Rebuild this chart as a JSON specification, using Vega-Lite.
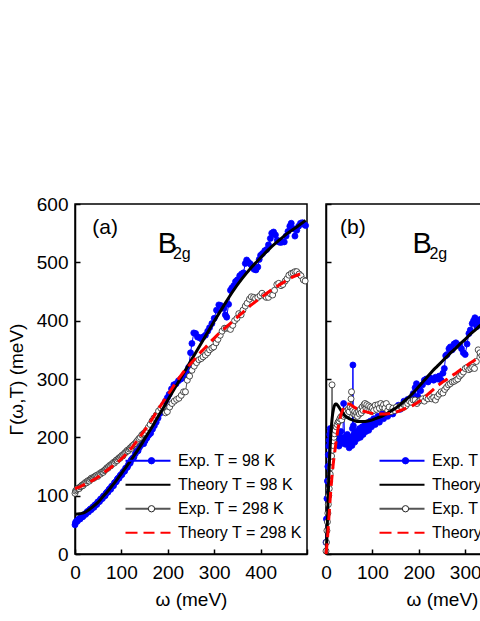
{
  "$schema": "https://vega.github.io/schema/vega-lite/v6.json",
  "padding": {"left": 6, "top": 194, "right": 0, "bottom": 0},
  "spacing": 6,
  "config": {
    "font": "Liberation Sans",
    "view": {"stroke": "black", "strokeWidth": 1.5},
    "axis": {"domainColor": "black", "domainWidth": 1.5, "tickColor": "black", "tickWidth": 1.5, "tickSize": -5, "labelFontSize": 19, "labelColor": "black", "labelFont": "Liberation Sans", "titleFont": "Liberation Sans", "titleFontSize": 19, "titleColor": "black", "titleFontWeight": "normal", "grid": false, "labelOverlap": false, "labelFlush": false}
  },
  "resolve": {"legend": {"color": "independent", "strokeDash": "independent", "fill": "independent", "stroke": "independent"}},
  "datasets": {
    "lab_a": [{"t": "(a)"}],
    "lab_b": [{"t": "(b)"}],
    "lab_B": [{"t": "B"}],
    "lab_2g": [{"t": "2g"}],
    "a_e98": [{"w":0,"g":50},{"w":1,"g":54},{"w":3,"g":56},{"w":5,"g":56},{"w":7,"g":59},{"w":9,"g":60},{"w":11,"g":60},{"w":13,"g":63},{"w":15,"g":64},{"w":17,"g":64},{"w":19,"g":67},{"w":21,"g":68},{"w":23,"g":68},{"w":25,"g":71},{"w":27,"g":73},{"w":29,"g":72},{"w":31,"g":75},{"w":33,"g":77},{"w":35,"g":76},{"w":37,"g":79},{"w":39,"g":81},{"w":41,"g":80},{"w":43,"g":84},{"w":45,"g":85},{"w":47,"g":85},{"w":49,"g":89},{"w":51,"g":90},{"w":53,"g":90},{"w":55,"g":94},{"w":57,"g":95},{"w":59,"g":95},{"w":61,"g":99},{"w":63,"g":100},{"w":65,"g":100},{"w":67,"g":104},{"w":69,"g":106},{"w":71,"g":106},{"w":73,"g":110},{"w":75,"g":112},{"w":77,"g":111},{"w":79,"g":116},{"w":81,"g":117},{"w":83,"g":117},{"w":85,"g":122},{"w":87,"g":123},{"w":89,"g":124},{"w":91,"g":128},{"w":93,"g":130},{"w":95,"g":130},{"w":97,"g":134},{"w":99,"g":136},{"w":101,"g":136},{"w":103,"g":140},{"w":105,"g":142},{"w":107,"g":142},{"w":109,"g":147},{"w":111,"g":148},{"w":113,"g":149},{"w":115,"g":153},{"w":117,"g":156},{"w":119,"g":156},{"w":121,"g":161},{"w":124,"g":164},{"w":127,"g":166},{"w":130,"g":172},{"w":133,"g":176},{"w":136,"g":177},{"w":139,"g":183},{"w":142,"g":187},{"w":145,"g":190},{"w":148,"g":189},{"w":151,"g":194},{"w":155,"g":199},{"w":159,"g":204},{"w":163,"g":207},{"w":167,"g":214},{"w":171,"g":220},{"w":175,"g":226},{"w":179,"g":233},{"w":183,"g":241},{"w":187,"g":249},{"w":191,"g":256},{"w":195,"g":262},{"w":199,"g":268},{"w":203,"g":274},{"w":208,"g":283},{"w":213,"g":290},{"w":218,"g":292},{"w":223,"g":297},{"w":228,"g":300},{"w":233,"g":302},{"w":238,"g":304},{"w":242,"g":312},{"w":245,"g":320},{"w":249,"g":345},{"w":252,"g":361},{"w":256,"g":379},{"w":260,"g":378},{"w":264,"g":372},{"w":268,"g":371},{"w":272,"g":369},{"w":276,"g":372},{"w":281,"g":375},{"w":286,"g":382},{"w":290,"g":388},{"w":295,"g":395},{"w":300,"g":404},{"w":305,"g":418},{"w":310,"g":427},{"w":314,"g":426},{"w":318,"g":422},{"w":321,"g":421},{"w":324,"g":410},{"w":327,"g":406},{"w":331,"g":428},{"w":335,"g":452},{"w":338,"g":456},{"w":342,"g":460},{"w":346,"g":467},{"w":350,"g":470},{"w":355,"g":477},{"w":359,"g":480},{"w":363,"g":482},{"w":367,"g":498},{"w":370,"g":504},{"w":374,"g":500},{"w":378,"g":497},{"w":382,"g":492},{"w":386,"g":488},{"w":390,"g":487},{"w":394,"g":492},{"w":397,"g":505},{"w":400,"g":512},{"w":404,"g":515},{"w":409,"g":520},{"w":413,"g":522},{"w":417,"g":530},{"w":421,"g":541},{"w":424,"g":550},{"w":428,"g":552},{"w":432,"g":547},{"w":436,"g":538},{"w":439,"g":535},{"w":443,"g":534},{"w":447,"g":535},{"w":451,"g":535},{"w":455,"g":545},{"w":459,"g":553},{"w":463,"g":562},{"w":466,"g":567},{"w":470,"g":558},{"w":474,"g":545},{"w":478,"g":555},{"w":482,"g":562},{"w":486,"g":567},{"w":490,"g":568},{"w":494,"g":565},{"w":497,"g":563}],
    "a_t98": [{"w":0,"g":68},{"w":10,"g":69},{"w":20,"g":71},{"w":30,"g":76},{"w":40,"g":82},{"w":50,"g":89},{"w":60,"g":98},{"w":70,"g":107},{"w":80,"g":117},{"w":90,"g":127},{"w":100,"g":138},{"w":110,"g":149},{"w":120,"g":160},{"w":130,"g":172},{"w":140,"g":184},{"w":150,"g":197},{"w":160,"g":210},{"w":170,"g":223},{"w":180,"g":237},{"w":190,"g":250},{"w":200,"g":264},{"w":220,"g":291},{"w":240,"g":318},{"w":260,"g":345},{"w":280,"g":372},{"w":300,"g":399},{"w":320,"g":425},{"w":340,"g":450},{"w":360,"g":472},{"w":380,"g":491},{"w":400,"g":508},{"w":420,"g":524},{"w":440,"g":538},{"w":460,"g":551},{"w":480,"g":562},{"w":497,"g":572}],
    "a_e298": [{"w":0,"g":104},{"w":1,"g":108},{"w":3,"g":110},{"w":5,"g":112},{"w":7,"g":113},{"w":9,"g":112},{"w":11,"g":115},{"w":13,"g":116},{"w":15,"g":118},{"w":17,"g":117},{"w":19,"g":120},{"w":21,"g":121},{"w":23,"g":123},{"w":25,"g":122},{"w":27,"g":125},{"w":29,"g":126},{"w":31,"g":125},{"w":33,"g":128},{"w":35,"g":130},{"w":37,"g":129},{"w":39,"g":131},{"w":41,"g":130},{"w":43,"g":133},{"w":45,"g":134},{"w":47,"g":135},{"w":49,"g":133},{"w":51,"g":136},{"w":53,"g":138},{"w":55,"g":137},{"w":57,"g":140},{"w":59,"g":141},{"w":61,"g":140},{"w":63,"g":143},{"w":65,"g":144},{"w":67,"g":146},{"w":69,"g":148},{"w":71,"g":147},{"w":73,"g":150},{"w":75,"g":152},{"w":77,"g":151},{"w":79,"g":154},{"w":81,"g":155},{"w":83,"g":157},{"w":85,"g":156},{"w":87,"g":159},{"w":89,"g":161},{"w":91,"g":160},{"w":93,"g":163},{"w":95,"g":165},{"w":97,"g":164},{"w":99,"g":167},{"w":101,"g":169},{"w":103,"g":168},{"w":105,"g":171},{"w":107,"g":173},{"w":109,"g":174},{"w":111,"g":176},{"w":113,"g":178},{"w":115,"g":177},{"w":117,"g":180},{"w":119,"g":182},{"w":121,"g":181},{"w":123,"g":185},{"w":126,"g":187},{"w":129,"g":189},{"w":132,"g":192},{"w":135,"g":195},{"w":138,"g":198},{"w":141,"g":200},{"w":144,"g":204},{"w":147,"g":206},{"w":150,"g":208},{"w":154,"g":212},{"w":158,"g":217},{"w":162,"g":222},{"w":166,"g":228},{"w":170,"g":233},{"w":175,"g":238},{"w":180,"g":245},{"w":185,"g":250},{"w":190,"g":252},{"w":195,"g":242},{"w":199,"g":244},{"w":204,"g":252},{"w":209,"g":258},{"w":214,"g":262},{"w":219,"g":265},{"w":224,"g":267},{"w":229,"g":272},{"w":234,"g":278},{"w":238,"g":278},{"w":242,"g":298},{"w":247,"g":305},{"w":252,"g":315},{"w":257,"g":322},{"w":262,"g":328},{"w":267,"g":333},{"w":272,"g":335},{"w":276,"g":338},{"w":281,"g":341},{"w":286,"g":345},{"w":290,"g":350},{"w":295,"g":353},{"w":299,"g":355},{"w":304,"g":362},{"w":308,"g":368},{"w":313,"g":375},{"w":317,"g":382},{"w":322,"g":387},{"w":326,"g":387},{"w":331,"g":387},{"w":335,"g":385},{"w":340,"g":392},{"w":344,"g":400},{"w":349,"g":404},{"w":353,"g":412},{"w":358,"g":410},{"w":362,"g":418},{"w":367,"g":425},{"w":371,"g":430},{"w":376,"g":437},{"w":380,"g":441},{"w":385,"g":440},{"w":389,"g":438},{"w":394,"g":440},{"w":399,"g":443},{"w":403,"g":447},{"w":408,"g":443},{"w":412,"g":440},{"w":417,"g":440},{"w":421,"g":446},{"w":426,"g":444},{"w":430,"g":452},{"w":435,"g":462},{"w":439,"g":464},{"w":444,"g":460},{"w":448,"g":462},{"w":453,"g":468},{"w":457,"g":472},{"w":461,"g":478},{"w":466,"g":481},{"w":470,"g":482},{"w":474,"g":484},{"w":478,"g":484},{"w":483,"g":480},{"w":487,"g":477},{"w":492,"g":470},{"w":496,"g":468}],
    "a_t298": [{"w":0,"g":112},{"w":10,"g":115},{"w":20,"g":119},{"w":30,"g":123},{"w":40,"g":127},{"w":50,"g":132},{"w":60,"g":138},{"w":70,"g":144},{"w":80,"g":150},{"w":90,"g":156},{"w":100,"g":163},{"w":110,"g":171},{"w":120,"g":180},{"w":130,"g":190},{"w":140,"g":201},{"w":150,"g":212},{"w":160,"g":224},{"w":170,"g":236},{"w":180,"g":249},{"w":190,"g":261},{"w":200,"g":273},{"w":210,"g":285},{"w":220,"g":297},{"w":230,"g":308},{"w":240,"g":318},{"w":250,"g":327},{"w":260,"g":336},{"w":270,"g":345},{"w":280,"g":353},{"w":290,"g":362},{"w":300,"g":370},{"w":310,"g":378},{"w":320,"g":385},{"w":330,"g":392},{"w":340,"g":399},{"w":350,"g":406},{"w":360,"g":413},{"w":370,"g":420},{"w":380,"g":427},{"w":390,"g":433},{"w":400,"g":439},{"w":410,"g":445},{"w":420,"g":451},{"w":430,"g":456},{"w":440,"g":461},{"w":450,"g":466},{"w":460,"g":471},{"w":470,"g":475},{"w":485,"g":480}],
    "b_e98": [{"w":0,"g":20},{"w":1,"g":60},{"w":2,"g":95},{"w":3,"g":125},{"w":4,"g":150},{"w":5,"g":170},{"w":6,"g":185},{"w":7,"g":195},{"w":8,"g":205},{"w":9,"g":215},{"w":10,"g":210},{"w":12,"g":205},{"w":14,"g":200},{"w":16,"g":195},{"w":18,"g":202},{"w":20,"g":190},{"w":22,"g":198},{"w":24,"g":205},{"w":26,"g":195},{"w":28,"g":185},{"w":30,"g":200},{"w":32,"g":210},{"w":34,"g":195},{"w":36,"g":190},{"w":38,"g":258},{"w":40,"g":200},{"w":42,"g":188},{"w":44,"g":195},{"w":46,"g":205},{"w":48,"g":192},{"w":50,"g":182},{"w":52,"g":190},{"w":54,"g":200},{"w":56,"g":186},{"w":57,"g":215},{"w":58,"g":324},{"w":59,"g":220},{"w":60,"g":205},{"w":62,"g":192},{"w":64,"g":200},{"w":66,"g":210},{"w":68,"g":198},{"w":70,"g":205},{"w":72,"g":215},{"w":74,"g":200},{"w":76,"g":208},{"w":78,"g":218},{"w":80,"g":205},{"w":82,"g":212},{"w":84,"g":222},{"w":86,"g":210},{"w":88,"g":218},{"w":90,"g":225},{"w":92,"g":212},{"w":94,"g":220},{"w":96,"g":228},{"w":98,"g":218},{"w":100,"g":225},{"w":103,"g":232},{"w":106,"g":222},{"w":109,"g":230},{"w":112,"g":236},{"w":115,"g":226},{"w":118,"g":234},{"w":121,"g":240},{"w":124,"g":232},{"w":127,"g":238},{"w":130,"g":244},{"w":133,"g":236},{"w":136,"g":242},{"w":140,"g":248},{"w":144,"g":240},{"w":148,"g":246},{"w":152,"g":250},{"w":156,"g":255},{"w":160,"g":248},{"w":164,"g":255},{"w":168,"g":262},{"w":172,"g":258},{"w":176,"g":265},{"w":180,"g":262},{"w":184,"g":268},{"w":188,"g":275},{"w":192,"g":285},{"w":195,"g":292},{"w":198,"g":270},{"w":201,"g":282},{"w":204,"g":280},{"w":208,"g":290},{"w":212,"g":298},{"w":216,"g":300},{"w":220,"g":295},{"w":224,"g":302},{"w":228,"g":300},{"w":232,"g":298},{"w":236,"g":303},{"w":240,"g":300},{"w":244,"g":305},{"w":248,"g":298},{"w":252,"g":310},{"w":255,"g":318},{"w":258,"g":340},{"w":261,"g":342},{"w":265,"g":352},{"w":268,"g":355},{"w":272,"g":350},{"w":276,"g":360},{"w":280,"g":362},{"w":284,"g":358},{"w":288,"g":358},{"w":292,"g":352},{"w":296,"g":345},{"w":300,"g":342},{"w":304,"g":360},{"w":308,"g":378},{"w":311,"g":384},{"w":315,"g":395},{"w":318,"g":400},{"w":321,"g":405},{"w":325,"g":390},{"w":328,"g":398},{"w":332,"g":402},{"w":336,"g":398},{"w":340,"g":405}],
    "b_t98": [{"w":0,"g":0},{"w":2,"g":30},{"w":4,"g":80},{"w":6,"g":130},{"w":8,"g":170},{"w":10,"g":200},{"w":12,"g":222},{"w":14,"g":238},{"w":16,"g":248},{"w":18,"g":254},{"w":20,"g":257},{"w":22,"g":257},{"w":25,"g":255},{"w":30,"g":249},{"w":35,"g":243},{"w":40,"g":238},{"w":50,"g":232},{"w":60,"g":229},{"w":70,"g":227},{"w":80,"g":227},{"w":90,"g":228},{"w":100,"g":230},{"w":110,"g":233},{"w":120,"g":236},{"w":130,"g":240},{"w":140,"g":245},{"w":150,"g":250},{"w":160,"g":256},{"w":170,"g":263},{"w":180,"g":270},{"w":190,"g":278},{"w":200,"g":287},{"w":210,"g":296},{"w":220,"g":305},{"w":230,"g":314},{"w":240,"g":322},{"w":250,"g":330},{"w":260,"g":338},{"w":270,"g":346},{"w":280,"g":353},{"w":290,"g":361},{"w":300,"g":368},{"w":310,"g":376},{"w":320,"g":383},{"w":330,"g":390},{"w":340,"g":397}],
    "b_e298": [{"w":0,"g":5},{"w":1,"g":20},{"w":2,"g":40},{"w":3,"g":55},{"w":4,"g":70},{"w":5,"g":85},{"w":6,"g":100},{"w":7,"g":112},{"w":8,"g":125},{"w":9,"g":137},{"w":10,"g":148},{"w":11,"g":158},{"w":12,"g":168},{"w":13,"g":290},{"w":14,"g":178},{"w":15,"g":186},{"w":16,"g":194},{"w":17,"g":200},{"w":18,"g":206},{"w":20,"g":212},{"w":22,"g":218},{"w":24,"g":222},{"w":26,"g":226},{"w":28,"g":228},{"w":30,"g":232},{"w":32,"g":235},{"w":34,"g":230},{"w":36,"g":238},{"w":38,"g":236},{"w":40,"g":242},{"w":42,"g":238},{"w":44,"g":245},{"w":46,"g":240},{"w":48,"g":248},{"w":50,"g":244},{"w":52,"g":252},{"w":54,"g":266},{"w":55,"g":278},{"w":56,"g":250},{"w":58,"g":246},{"w":60,"g":240},{"w":62,"g":244},{"w":64,"g":238},{"w":66,"g":242},{"w":68,"g":236},{"w":70,"g":244},{"w":72,"g":240},{"w":74,"g":248},{"w":76,"g":242},{"w":78,"g":252},{"w":80,"g":246},{"w":82,"g":256},{"w":84,"g":258},{"w":86,"g":250},{"w":88,"g":256},{"w":90,"g":248},{"w":92,"g":254},{"w":94,"g":246},{"w":96,"g":252},{"w":98,"g":244},{"w":100,"g":250},{"w":103,"g":246},{"w":106,"g":255},{"w":109,"g":248},{"w":112,"g":256},{"w":115,"g":250},{"w":118,"g":258},{"w":121,"g":252},{"w":124,"g":256},{"w":127,"g":250},{"w":130,"g":258},{"w":133,"g":246},{"w":136,"g":252},{"w":140,"g":244},{"w":144,"g":250},{"w":148,"g":246},{"w":152,"g":252},{"w":156,"g":248},{"w":160,"g":254},{"w":164,"g":250},{"w":168,"g":256},{"w":172,"g":254},{"w":176,"g":258},{"w":180,"g":262},{"w":184,"g":260},{"w":188,"g":264},{"w":192,"g":264},{"w":196,"g":258},{"w":200,"g":262},{"w":204,"g":264},{"w":208,"g":266},{"w":212,"g":262},{"w":216,"g":268},{"w":220,"g":266},{"w":224,"g":270},{"w":228,"g":266},{"w":232,"g":268},{"w":236,"g":264},{"w":240,"g":270},{"w":244,"g":274},{"w":248,"g":278},{"w":252,"g":276},{"w":256,"g":282},{"w":260,"g":286},{"w":264,"g":290},{"w":268,"g":292},{"w":272,"g":295},{"w":276,"g":296},{"w":280,"g":298},{"w":284,"g":300},{"w":288,"g":305},{"w":292,"g":308},{"w":296,"g":312},{"w":300,"g":318},{"w":304,"g":320},{"w":308,"g":316},{"w":312,"g":318},{"w":316,"g":320},{"w":320,"g":318},{"w":324,"g":330},{"w":328,"g":350},{"w":332,"g":345},{"w":336,"g":340},{"w":340,"g":342}],
    "b_t298": [{"w":0,"g":0},{"w":3,"g":25},{"w":6,"g":60},{"w":9,"g":95},{"w":12,"g":125},{"w":15,"g":150},{"w":18,"g":170},{"w":21,"g":188},{"w":24,"g":205},{"w":27,"g":220},{"w":30,"g":232},{"w":35,"g":245},{"w":40,"g":253},{"w":45,"g":257},{"w":50,"g":257},{"w":55,"g":255},{"w":60,"g":252},{"w":70,"g":248},{"w":80,"g":245},{"w":90,"g":243},{"w":100,"g":241},{"w":110,"g":240},{"w":120,"g":240},{"w":130,"g":240},{"w":140,"g":241},{"w":150,"g":243},{"w":160,"g":246},{"w":170,"g":249},{"w":180,"g":252},{"w":190,"g":256},{"w":200,"g":261},{"w":210,"g":267},{"w":220,"g":274},{"w":230,"g":281},{"w":240,"g":288},{"w":250,"g":294},{"w":260,"g":299},{"w":270,"g":305},{"w":280,"g":310},{"w":290,"g":316},{"w":300,"g":321},{"w":310,"g":327},{"w":320,"g":332},{"w":330,"g":337},{"w":340,"g":342}]
  },
  "hconcat": [
    {
      "width": 232,
      "height": 350,
      "layer": [
        {
          "encoding": {
            "x": {"field": "w", "type": "quantitative", "scale": {"domain": [0, 500], "nice": false, "zero": false}, "axis": {"values": [0,50,100,150,200,250,300,350,400,450,500], "labelExpr": "datum.value % 100 === 0 && datum.value < 500 ? datum.label : ''", "title": "ω (meV)", "labelPadding": 14, "titlePadding": 8}},
            "y": {"field": "g", "type": "quantitative", "scale": {"domain": [0, 600], "nice": false}, "axis": {"values": [0,50,100,150,200,250,300,350,400,450,500,550,600], "labelExpr": "datum.value % 100 === 0 ? datum.label : ''", "title": "Γ(ω,T) (meV)", "labelPadding": 12, "titlePadding": 10}}
          },
          "layer": [
            {"data": {"name": "a_e98"}, "mark": {"type": "line", "strokeWidth": 1},
             "encoding": {
               "color": {"datum": "Exp. T = 98 K", "type": "nominal", "scale": {"domain": ["Exp. T = 98 K", "Theory T = 98 K", "Exp. T = 298 K", "Theory T = 298 K"], "range": ["#0000ff", "#000000", "#555555", "#ff0000"]},
                 "legend": {"title": null, "orient": "none", "legendX": 49, "legendY": 245, "direction": "vertical", "symbolType": "stroke", "symbolSize": 2025, "symbolStrokeWidth": 2.2, "clipHeight": 23.5, "rowPadding": 0, "padding": 0, "labelFontSize": 16, "labelColor": "black", "labelFont": "Liberation Sans", "labelOffset": 6, "symbolOpacity": 1}}
             }},
            {"data": {"name": "a_e98"}, "mark": {"type": "point", "shape": "circle", "filled": true, "size": 36, "opacity": 1, "strokeWidth": 0.8},
             "encoding": {
               "fill": {"datum": "Exp. T = 98 K", "type": "nominal", "scale": {"domain": ["Exp. T = 98 K", " ", "Exp. T = 298 K"], "range": ["#0000ff", "transparent", "#ffffff"]},
                 "legend": {"title": null, "orient": "none", "legendX": 49, "legendY": 245, "direction": "vertical", "symbolType": "circle", "symbolSize": 40, "symbolStrokeWidth": 1, "symbolOffset": 19.5, "clipHeight": 23.5, "rowPadding": 0, "padding": 0, "labelFontSize": 16, "labelOpacity": 0, "symbolOpacity": 1}},
               "stroke": {"datum": "Exp. T = 98 K", "type": "nominal", "scale": {"domain": ["Exp. T = 98 K", " ", "Exp. T = 298 K"], "range": ["#0000ff", "transparent", "#222222"]},
                 "legend": {"title": null, "orient": "none", "legendX": 49, "legendY": 245, "direction": "vertical", "symbolType": "circle", "symbolSize": 40, "symbolStrokeWidth": 1, "symbolOffset": 19.5, "clipHeight": 23.5, "rowPadding": 0, "padding": 0, "labelFontSize": 16, "labelOpacity": 0, "symbolOpacity": 1}}
             }},
            {"data": {"name": "a_e298"}, "mark": {"type": "line", "strokeWidth": 1}, "encoding": {"color": {"datum": "Exp. T = 298 K", "type": "nominal"}}},
            {"data": {"name": "a_e298"}, "mark": {"type": "point", "shape": "circle", "filled": true, "size": 36, "opacity": 1, "strokeWidth": 0.8}, "encoding": {"fill": {"datum": "Exp. T = 298 K", "type": "nominal"}, "stroke": {"datum": "Exp. T = 298 K", "type": "nominal"}}},
            {"data": {"name": "a_t98"}, "mark": {"type": "line", "strokeWidth": 3, "interpolate": "monotone"}, "encoding": {"color": {"datum": "Theory T = 98 K", "type": "nominal"}}},
            {"data": {"name": "a_t298"}, "mark": {"type": "line", "strokeWidth": 3, "strokeDash": [11, 6], "interpolate": "monotone"}, "encoding": {"color": {"datum": "Theory T = 298 K", "type": "nominal"}}},
            {"data": {"name": "a_t298"}, "transform": [{"filter": "datum.w < 0"}], "mark": {"type": "line", "color": "white", "strokeWidth": 5},
             "encoding": {"strokeDash": {"datum": "Theory T = 298 K", "type": "nominal", "scale": {"domain": ["m1", "m2", "m3", "Theory T = 298 K"], "range": [[0, 100], [0, 100], [0, 100], [0, 11, 6, 0]]},
               "legend": {"title": null, "orient": "none", "legendX": 49, "legendY": 245, "direction": "vertical", "symbolType": "stroke", "symbolSize": 2025, "symbolStrokeColor": "white", "symbolStrokeWidth": 5, "clipHeight": 23.5, "rowPadding": 0, "padding": 0, "labelFontSize": 16, "labelOpacity": 0, "symbolOpacity": 1}}}}
          ]
        },
        {"data": {"name": "lab_a"}, "mark": {"type": "text", "fontSize": 21, "align": "center", "baseline": "middle", "color": "black"}, "encoding": {"x": {"datum": 65, "type": "quantitative"}, "y": {"datum": 559, "type": "quantitative"}, "text": {"field": "t", "type": "nominal"}}},
        {"data": {"name": "lab_B"}, "mark": {"type": "text", "fontSize": 29, "align": "center", "baseline": "alphabetic", "color": "black"}, "encoding": {"x": {"datum": 199, "type": "quantitative"}, "y": {"datum": 516, "type": "quantitative"}, "text": {"field": "t", "type": "nominal"}}},
        {"data": {"name": "lab_2g"}, "mark": {"type": "text", "fontSize": 16, "align": "left", "baseline": "alphabetic", "color": "black"}, "encoding": {"x": {"datum": 211, "type": "quantitative"}, "y": {"datum": 506, "type": "quantitative"}, "text": {"field": "t", "type": "nominal"}}}
      ]
    },
    {
      "width": 232,
      "height": 350,
      "layer": [
        {
          "encoding": {
            "x": {"field": "w", "type": "quantitative", "scale": {"domain": [0, 500], "nice": false, "zero": false}, "axis": {"values": [0,50,100,150,200,250,300,350,400,450,500], "labelExpr": "datum.value % 100 === 0 && datum.value < 500 ? datum.label : ''", "title": "ω (meV)", "labelPadding": 14, "titlePadding": 8}},
            "y": {"field": "g", "type": "quantitative", "scale": {"domain": [0, 600], "nice": false}, "axis": {"values": [0,50,100,150,200,250,300,350,400,450,500,550,600], "labels": false, "title": null}}
          },
          "layer": [
            {"data": {"name": "b_e98"}, "mark": {"type": "line", "strokeWidth": 1},
             "encoding": {
               "color": {"datum": "Exp. T = 98 K", "type": "nominal", "scale": {"domain": ["Exp. T = 98 K", "Theory T = 98 K", "Exp. T = 298 K", "Theory T = 298 K"], "range": ["#0000ff", "#000000", "#555555", "#ff0000"]},
                 "legend": {"title": null, "orient": "none", "legendX": 52, "legendY": 245, "direction": "vertical", "symbolType": "stroke", "symbolSize": 2025, "symbolStrokeWidth": 2.2, "clipHeight": 23.5, "rowPadding": 0, "padding": 0, "labelFontSize": 16, "labelColor": "black", "labelFont": "Liberation Sans", "labelOffset": 6, "symbolOpacity": 1}}
             }},
            {"data": {"name": "b_e98"}, "mark": {"type": "point", "shape": "circle", "filled": true, "size": 36, "opacity": 1, "strokeWidth": 0.8},
             "encoding": {
               "fill": {"datum": "Exp. T = 98 K", "type": "nominal", "scale": {"domain": ["Exp. T = 98 K", " ", "Exp. T = 298 K"], "range": ["#0000ff", "transparent", "#ffffff"]},
                 "legend": {"title": null, "orient": "none", "legendX": 52, "legendY": 245, "direction": "vertical", "symbolType": "circle", "symbolSize": 40, "symbolStrokeWidth": 1, "symbolOffset": 19.5, "clipHeight": 23.5, "rowPadding": 0, "padding": 0, "labelFontSize": 16, "labelOpacity": 0, "symbolOpacity": 1}},
               "stroke": {"datum": "Exp. T = 98 K", "type": "nominal", "scale": {"domain": ["Exp. T = 98 K", " ", "Exp. T = 298 K"], "range": ["#0000ff", "transparent", "#222222"]},
                 "legend": {"title": null, "orient": "none", "legendX": 52, "legendY": 245, "direction": "vertical", "symbolType": "circle", "symbolSize": 40, "symbolStrokeWidth": 1, "symbolOffset": 19.5, "clipHeight": 23.5, "rowPadding": 0, "padding": 0, "labelFontSize": 16, "labelOpacity": 0, "symbolOpacity": 1}}
             }},
            {"data": {"name": "b_e298"}, "mark": {"type": "line", "strokeWidth": 1}, "encoding": {"color": {"datum": "Exp. T = 298 K", "type": "nominal"}}},
            {"data": {"name": "b_e298"}, "mark": {"type": "point", "shape": "circle", "filled": true, "size": 36, "opacity": 1, "strokeWidth": 0.8}, "encoding": {"fill": {"datum": "Exp. T = 298 K", "type": "nominal"}, "stroke": {"datum": "Exp. T = 298 K", "type": "nominal"}}},
            {"data": {"name": "b_t98"}, "mark": {"type": "line", "strokeWidth": 3, "interpolate": "monotone"}, "encoding": {"color": {"datum": "Theory T = 98 K", "type": "nominal"}}},
            {"data": {"name": "b_t298"}, "mark": {"type": "line", "strokeWidth": 3, "strokeDash": [11, 6], "interpolate": "monotone"}, "encoding": {"color": {"datum": "Theory T = 298 K", "type": "nominal"}}},
            {"data": {"name": "b_t298"}, "transform": [{"filter": "datum.w < 0"}], "mark": {"type": "line", "color": "white", "strokeWidth": 5},
             "encoding": {"strokeDash": {"datum": "Theory T = 298 K", "type": "nominal", "scale": {"domain": ["m1", "m2", "m3", "Theory T = 298 K"], "range": [[0, 100], [0, 100], [0, 100], [0, 11, 6, 0]]},
               "legend": {"title": null, "orient": "none", "legendX": 52, "legendY": 245, "direction": "vertical", "symbolType": "stroke", "symbolSize": 2025, "symbolStrokeColor": "white", "symbolStrokeWidth": 5, "clipHeight": 23.5, "rowPadding": 0, "padding": 0, "labelFontSize": 16, "labelOpacity": 0, "symbolOpacity": 1}}}}
          ]
        },
        {"data": {"name": "lab_b"}, "mark": {"type": "text", "fontSize": 21, "align": "center", "baseline": "middle", "color": "black"}, "encoding": {"x": {"datum": 58, "type": "quantitative"}, "y": {"datum": 559, "type": "quantitative"}, "text": {"field": "t", "type": "nominal"}}},
        {"data": {"name": "lab_B"}, "mark": {"type": "text", "fontSize": 29, "align": "center", "baseline": "alphabetic", "color": "black"}, "encoding": {"x": {"datum": 207, "type": "quantitative"}, "y": {"datum": 516, "type": "quantitative"}, "text": {"field": "t", "type": "nominal"}}},
        {"data": {"name": "lab_2g"}, "mark": {"type": "text", "fontSize": 16, "align": "left", "baseline": "alphabetic", "color": "black"}, "encoding": {"x": {"datum": 223, "type": "quantitative"}, "y": {"datum": 506, "type": "quantitative"}, "text": {"field": "t", "type": "nominal"}}}
      ]
    }
  ]
}
